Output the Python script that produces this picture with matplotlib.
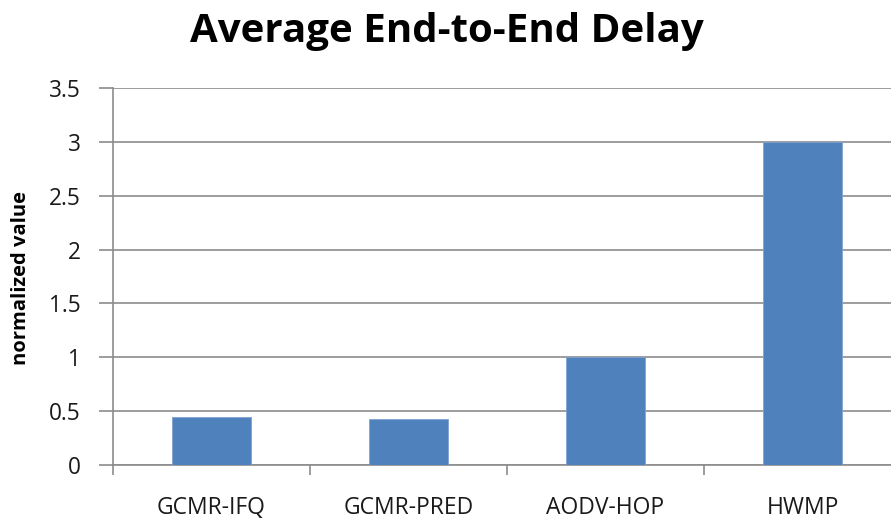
import matplotlib
matplotlib.use("Agg")
import matplotlib.pyplot as plt
import numpy as np

categories = ["GCMR-IFQ", "GCMR-PRED", "AODV-HOP", "HWMP"]
values = [0.45, 0.43, 1.0, 3.0]
yticks = [0, 0.5, 1, 1.5, 2, 2.5, 3, 3.5]
ytick_labels = ["0", "0.5", "1", "1.5", "2", "2.5", "3", "3.5"]

W, H = 891, 521
fig = plt.figure(figsize=(W / 100, H / 100), dpi=100)
plt.rcParams['font.family'] = ['Open Sans', 'DejaVu Sans']

left, right = 113, 901
bottom, top = 465, 88
ax = fig.add_axes([left / W, 1 - bottom / H, (right - left) / W, (bottom - top) / H])

x = np.arange(len(categories))
ax.bar(x, values, width=0.4, color="#4F81BD", edgecolor="#7FA3D0", linewidth=0.6, zorder=3)

ax.set_xlim(-0.5, len(categories) - 0.5)
ax.set_ylim(0, 3.5)
ax.set_yticks(yticks)
ax.set_yticklabels(ytick_labels)
ax.yaxis.grid(True, color="#8C8C8C", linewidth=1.2)
ax.set_axisbelow(True)

ax.set_xticks(x)
ax.set_xticklabels(categories)
ax.set_xticks(np.arange(-0.5, len(categories), 1.0), minor=True)
ax.tick_params(axis="x", which="major", length=0, pad=22, labelsize=16.5, labelcolor="#1a1a1a")
ax.tick_params(axis="x", which="minor", length=7, width=1.2, color="#8C8C8C", direction="out")
ax.tick_params(axis="y", length=10, width=1.2, color="#8C8C8C", pad=13, labelsize=16.3, labelcolor="#1a1a1a")

for s in ["top", "right"]:
    ax.spines[s].set_visible(False)
for s in ["left", "bottom"]:
    ax.spines[s].set_color("#8C8C8C")
    ax.spines[s].set_linewidth(1.2)

fig.text(447 / W, 1 - 42 / H, "Average End-to-End Delay", ha="center", va="baseline",
         fontsize=29, fontweight="bold", color="black")
fig.text(21.5 / W, 1 - 278 / H, "normalized value", ha="center", va="center", rotation=90,
         fontsize=14.5, fontweight="bold", color="black")

fig.savefig("out.png", dpi=100)
